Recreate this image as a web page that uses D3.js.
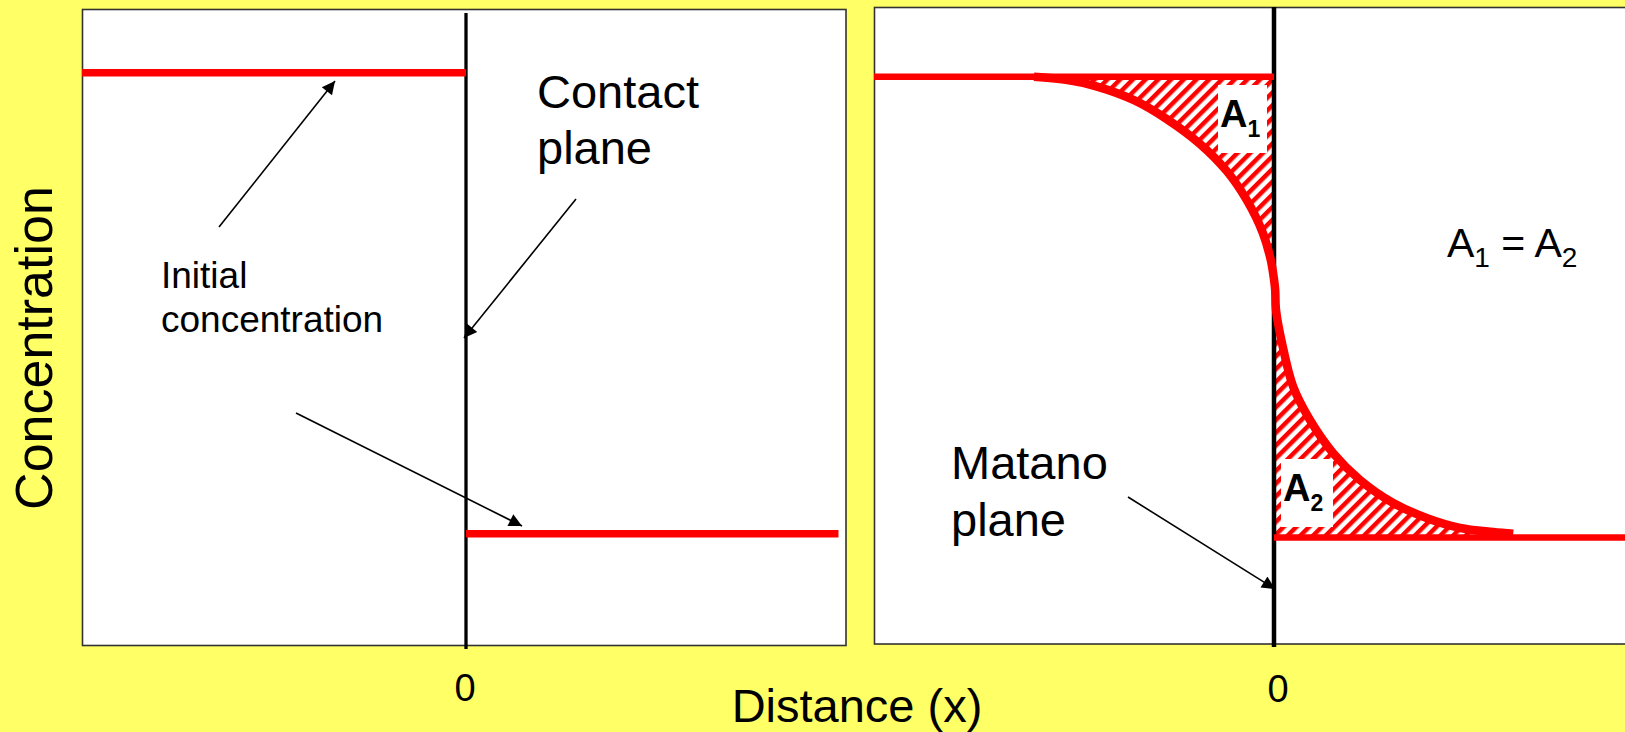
<!DOCTYPE html>
<html>
<head>
<meta charset="utf-8">
<script src="https://cdn.jsdelivr.net/npm/d3@7/dist/d3.min.js"></script>
<style>
  html, body { margin: 0; padding: 0; background: #ffff66; overflow: hidden; }
  svg { display: block; font-family: "Liberation Sans", Arial, sans-serif; }
</style>
</head>
<body>
<div id="chart"></div>
<script>
// Données (distance normalisée, concentration normalisée)
const ticksX = [0];
const tickLabels = ["0"];

// panneau gauche : profils initiaux
const initialHaut = [{ x: -1, c: 1 }, { x: 0, c: 1 }];
const initialBas = [{ x: 0, c: 0 }, { x: 0.97, c: 0 }];

// panneau droit : plateaux et profil après diffusion
const plateauHaut = [{ x: -1, c: 1 }, { x: 0, c: 1 }];
const plateauBas = [{ x: 0, c: 0 }, { x: 1, c: 0 }];
const profilX = [-0.6, -0.52, -0.44, -0.35, -0.27, -0.185, -0.118, -0.068, -0.028, -0.008, 0, 0.003, 0.005, 0.02, 0.048, 0.09, 0.148, 0.215, 0.298, 0.383, 0.465, 0.548, 0.598];
const profilC = [1, 0.993, 0.978, 0.949, 0.909, 0.854, 0.795, 0.732, 0.661, 0.602, 0.56, 0.537, 0.494, 0.422, 0.327, 0.255, 0.183, 0.125, 0.075, 0.042, 0.021, 0.012, 0.008];

const W = 1625, H = 732;

const svg = d3.select("#chart").append("svg")
    .attr("width", W)
    .attr("height", H);

// fond jaune
svg.append("rect").attr("width", W).attr("height", H).attr("fill", "#ffff66");

// échelles
const xL = d3.scaleLinear().domain([-1, 1]).range([82, 850]);
const yL = d3.scaleLinear().domain([0, 1]).range([533.7, 72.7]);
const xR = d3.scaleLinear().domain([-1, 1]).range([874, 1674]);
const yR = d3.scaleLinear().domain([0, 1]).range([537.5, 76.7]);

// motif hachuré
const defs = svg.append("defs");
const motif = defs.append("pattern")
    .attr("id", "hachures")
    .attr("patternUnits", "userSpaceOnUse")
    .attr("width", 9)
    .attr("height", 9)
    .attr("patternTransform", "rotate(45)");
motif.append("rect")
    .attr("x", 0).attr("y", 0)
    .attr("width", 4.5).attr("height", 9)
    .attr("fill", "#ff0000");

defs.append("marker")
    .attr("id", "fleche")
    .attr("viewBox", "0 0 10 10")
    .attr("refX", 10).attr("refY", 5)
    .attr("markerUnits", "userSpaceOnUse")
    .attr("markerWidth", 16).attr("markerHeight", 13)
    .attr("orient", "auto")
    .append("path")
    .attr("d", "M0,0 L10,5 L0,10 Z")
    .attr("fill", "black");

// cadres
svg.append("rect")
    .attr("x", 82.5).attr("y", 9.5)
    .attr("width", 763.5).attr("height", 636)
    .attr("fill", "white").attr("stroke", "#333").attr("stroke-width", 1.6);

svg.append("rect")
    .attr("x", 874.5).attr("y", 7.5)
    .attr("width", 800).attr("height", 636.5)
    .attr("fill", "white").attr("stroke", "#333").attr("stroke-width", 1.6);

// zones A1 et A2
const profil = profilX.map((x, i) => ({ x: x, c: profilC[i] }));
const zoneA1 = profil.filter(d => d.x <= 0);
const zoneA2 = profil.filter(d => d.x >= 0);

const aireHaut = d3.area()
    .x(d => xR(d.x))
    .y0(yR(1))
    .y1(d => yR(d.c))
    .curve(d3.curveCatmullRom);
const aireBas = d3.area()
    .x(d => xR(d.x))
    .y0(yR(0))
    .y1(d => yR(d.c))
    .curve(d3.curveCatmullRom);

svg.append("path").attr("d", aireHaut(zoneA1)).attr("fill", "url(#hachures)");
svg.append("path").attr("d", aireBas(zoneA2)).attr("fill", "url(#hachures)");

// petites cases blanches pour les étiquettes
svg.append("rect").attr("x", 1218).attr("y", 85).attr("width", 49).attr("height", 68).attr("fill", "white");
svg.append("rect").attr("x", 1281).attr("y", 459).attr("width", 52).attr("height", 68).attr("fill", "white");

// plans verticaux (x = 0)
svg.selectAll(".planG")
    .data(ticksX)
    .enter()
    .append("line")
    .attr("x1", d => xL(d)).attr("x2", d => xL(d))
    .attr("y1", 13).attr("y2", 649)
    .attr("stroke", "black").attr("stroke-width", 3.3);

svg.selectAll(".planD")
    .data(ticksX)
    .enter()
    .append("line")
    .attr("x1", d => xR(d)).attr("x2", d => xR(d))
    .attr("y1", 7).attr("y2", 647)
    .attr("stroke", "black").attr("stroke-width", 4.5);

// profils rouges
const ligneG = d3.line().x(d => xL(d.x)).y(d => yL(d.c));
const ligneD = d3.line().x(d => xR(d.x)).y(d => yR(d.c));
const courbe = d3.line().x(d => xR(d.x)).y(d => yR(d.c)).curve(d3.curveCatmullRom);

[initialHaut, initialBas].forEach(seg => {
    svg.append("path")
        .attr("d", ligneG(seg))
        .attr("fill", "none")
        .attr("stroke", "#ff0000")
        .attr("stroke-width", 7.5);
});

[plateauHaut, plateauBas].forEach(seg => {
    svg.append("path")
        .attr("d", ligneD(seg))
        .attr("fill", "none")
        .attr("stroke", "#ff0000")
        .attr("stroke-width", 6.5);
});

svg.append("path")
    .attr("d", courbe(profil))
    .attr("fill", "none")
    .attr("stroke", "#ff0000")
    .attr("stroke-width", 8.5);

// flèches d'annotation
const fleches = [
    [219, 227, 335, 81],
    [296, 413, 522, 526],
    [576, 199, 464, 338],
    [1128, 497, 1275, 589]
];
svg.selectAll(".fleche")
    .data(fleches)
    .enter()
    .append("line")
    .attr("x1", d => d[0]).attr("y1", d => d[1])
    .attr("x2", d => d[2]).attr("y2", d => d[3])
    .attr("stroke", "black")
    .attr("stroke-width", 1.6)
    .attr("marker-end", "url(#fleche)");

// textes
function texte(x, y, t, taille, options) {
    const el = svg.append("text")
        .attr("x", x).attr("y", y)
        .attr("font-size", taille)
        .attr("fill", "black")
        .text(t);
    if (options && options.anchor) el.attr("text-anchor", options.anchor);
    if (options && options.bold) el.attr("font-weight", "bold");
    return el;
}

texte(537, 108, "Contact", 47);
texte(537, 164, "plane", 47);
texte(161, 288, "Initial", 37);
texte(161, 332, "concentration", 37);
texte(951, 479, "Matano", 47);
texte(951, 536, "plane", 47);
texte(857, 722, "Distance (x)", 47, { anchor: "middle" });

svg.append("text")
    .attr("transform", "translate(52,348) rotate(-90)")
    .attr("text-anchor", "middle")
    .attr("font-size", 52)
    .text("Concentration");

// étiquettes de graduation
svg.selectAll(".tickG")
    .data(ticksX)
    .enter()
    .append("text")
    .attr("x", d => xL(d) - 1)
    .attr("y", 701)
    .attr("text-anchor", "middle")
    .attr("font-size", 38)
    .text((d, i) => tickLabels[i]);

svg.selectAll(".tickD")
    .data(ticksX)
    .enter()
    .append("text")
    .attr("x", d => xR(d) + 4)
    .attr("y", 702)
    .attr("text-anchor", "middle")
    .attr("font-size", 38)
    .text((d, i) => tickLabels[i]);

// A1, A2
const a1 = texte(1220, 127, "A", 38, { bold: true });
a1.append("tspan").attr("dy", 10).attr("font-size", 23).text("1");
const a2 = texte(1283, 501, "A", 38, { bold: true });
a2.append("tspan").attr("dy", 10).attr("font-size", 23).text("2");

const egal = texte(1447, 257, "A", 41);
egal.append("tspan").attr("dy", 10).attr("font-size", 28).text("1");
egal.append("tspan").attr("dy", -10).text(" = A");
egal.append("tspan").attr("dy", 10).attr("font-size", 28).text("2");
</script>
</body>
</html>
